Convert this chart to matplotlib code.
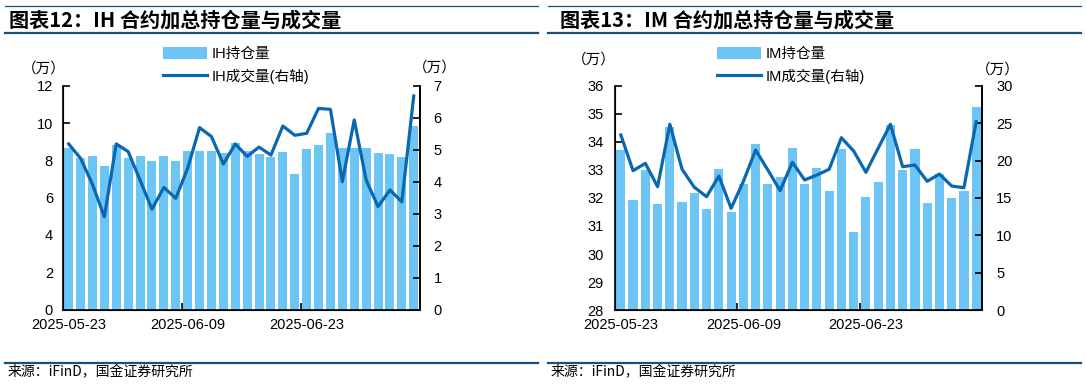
import matplotlib
matplotlib.use("Agg")
import matplotlib.pyplot as plt
from matplotlib.lines import Line2D
from matplotlib.ticker import FixedLocator, NullFormatter

plt.rcParams['font.family'] = ['Liberation Sans', 'Noto Sans CJK SC', 'DejaVu Sans']

dates = ["05-23", "05-26", "05-27", "05-28", "05-29", "05-30",
         "06-03", "06-04", "06-05", "06-06",
         "06-09", "06-10", "06-11", "06-12", "06-13",
         "06-16", "06-17", "06-18", "06-19", "06-20",
         "06-23", "06-24", "06-25", "06-26", "06-27",
         "06-30", "07-01", "07-02", "07-03", "07-04"]
dates = ["2025-" + d for d in dates]
tick_labels = ["2025-05-23", "2025-06-09", "2025-06-23"]

ih_oi = [8.66, 8.11, 8.25, 7.70, 8.80, 8.11, 8.25, 7.95, 8.25, 7.95,
         8.52, 8.52, 8.52, 8.38, 8.91, 8.48, 8.34, 8.18, 8.43, 7.29,
         8.59, 8.84, 9.48, 8.66, 8.66, 8.66, 8.41, 8.34, 8.18, 9.86]
ih_vol = [5.18, 4.73, 3.92, 2.90, 5.18, 4.94, 4.05, 3.14, 3.82, 3.48,
          4.42, 5.69, 5.41, 4.55, 5.18, 4.79, 5.08, 4.83, 5.74, 5.45,
          5.51, 6.29, 6.26, 4.00, 5.93, 4.05, 3.22, 3.74, 3.37, 6.68]

im_oi = [33.70, 31.93, 33.01, 31.77, 34.54, 31.86, 32.19, 31.60, 33.04, 31.50,
         32.51, 33.91, 32.51, 32.73, 33.79, 32.51, 33.05, 32.25, 33.74, 30.80,
         32.03, 32.57, 34.60, 33.01, 33.73, 31.82, 32.86, 31.99, 32.25, 35.24]
im_vol = [23.41, 18.64, 19.62, 16.50, 24.84, 18.82, 16.42, 15.16, 17.93, 13.61,
          17.20, 21.40, 18.73, 15.96, 19.76, 17.39, 18.06, 18.82, 23.05, 21.27,
          18.42, 21.63, 24.84, 19.17, 19.40, 17.22, 18.19, 16.59, 16.36, 25.19]

BAR = "#6CC5F4"
LINE = "#0A68B0"
RULE = "#1B4F7A"

W, H = 1086, 384
fig = plt.figure(figsize=(W / 100, H / 100), dpi=100)


def fx(px):
    return px / W


def fy(py):
    return 1 - py / H


def panel(x0, x1, y0, y1, oi, vol, ylim, ylim2, yticks, yticks2, name,
          lpad, rpad):
    ax = fig.add_axes([fx(x0), fy(y1), fx(x1 - x0), (y1 - y0) / H])
    n = len(oi)
    xs = list(range(n))
    ax.bar(xs, [v - ylim[0] for v in oi], bottom=ylim[0], width=0.75,
           color=BAR, zorder=2, label=name + "持仓量")
    ax.set_xlim(-0.5, n - 0.5)
    ax.set_ylim(*ylim)
    ax.set_yticks(yticks)
    ax.spines['top'].set_visible(False)
    for s in ['left', 'right', 'bottom']:
        ax.spines[s].set_linewidth(1.2)
    ax.tick_params(axis='y', direction='in', length=5, width=1.2,
                   labelsize=10.5, pad=lpad)
    idx = [dates.index(t) for t in tick_labels]
    ax.set_xticks(idx)
    ax.set_xticklabels(tick_labels)
    ax.tick_params(axis='x', which='major', length=0, labelsize=10.5, pad=6)
    ax.xaxis.set_minor_locator(FixedLocator([i - 0.5 for i in idx[1:]]))
    ax.xaxis.set_minor_formatter(NullFormatter())
    ax.tick_params(axis='x', which='minor', direction='in', length=5, width=1.2)

    ax2 = ax.twinx()
    ax2.plot(xs, vol, color=LINE, lw=2.3, zorder=3, label=name + "成交量(右轴)")
    ax2.set_ylim(*ylim2)
    ax2.set_yticks(yticks2)
    ax2.spines['top'].set_visible(False)
    ax2.spines['right'].set_linewidth(1.2)
    ax2.tick_params(axis='y', direction='in', length=5, width=1.2,
                    labelsize=10.5, pad=rpad)
    return ax, ax2


axL, axL2 = panel(62.7, 419.7, 85.7, 309.6, ih_oi, ih_vol, (0, 12), (0, 7),
                  range(0, 13, 2), range(0, 8), "IH", 7, 10)
axR, axR2 = panel(614.7, 982.3, 85.7, 310.1, im_oi, im_vol, (28, 36), (0, 30),
                  range(28, 37), range(0, 31, 5), "IM", 8, 10)

cjk = ['Noto Sans CJK SC', 'DejaVu Sans']


def legend(ax, ax2, x, y):
    h1, l1 = ax.get_legend_handles_labels()
    h2, l2 = ax2.get_legend_handles_labels()
    leg = fig.legend(h1 + h2, l1 + l2, loc='upper left',
                     bbox_to_anchor=(fx(x), fy(y)), frameon=False,
                     prop={'family': ['Liberation Sans', 'Noto Sans CJK SC'], 'size': 10.5},
                     handlelength=3.0, handleheight=0.8, labelspacing=0.5,
                     handletextpad=0.35, borderaxespad=0, borderpad=0)
    return leg


legend(axL, axL2, 163, 47)
legend(axR, axR2, 717, 47)

# unit labels
for x, y in [(44, 69), (435, 68), (594, 60), (998, 70)]:
    fig.text(fx(x), fy(y), "（万）", ha='center', va='center', fontsize=10.5,
             family=cjk)

# titles and rules
for x0, x1, tx, title in [(5, 538, 9, "图表12：IH 合约加总持仓量与成交量"),
                          (548, 1081, 560, "图表13：IM 合约加总持仓量与成交量")]:
    fig.add_artist(Line2D([fx(x0), fx(x1)], [fy(5.5), fy(5.5)], color=RULE, lw=0.9))
    fig.add_artist(Line2D([fx(x0), fx(x1)], [fy(33), fy(33)], color=RULE, lw=1.6))
    fig.add_artist(Line2D([fx(x0), fx(x1)], [fy(362.5), fy(362.5)], color=RULE, lw=1.6))
    fig.text(fx(tx), fy(20), title, ha='left', va='center', fontsize=14.5,
             fontweight='bold', family=cjk)
    fig.text(fx(x0 + 3), fy(372), "来源：iFinD，国金证券研究所", ha='left',
             va='center', fontsize=10, family=cjk)

fig.savefig("out.png", dpi=100)
